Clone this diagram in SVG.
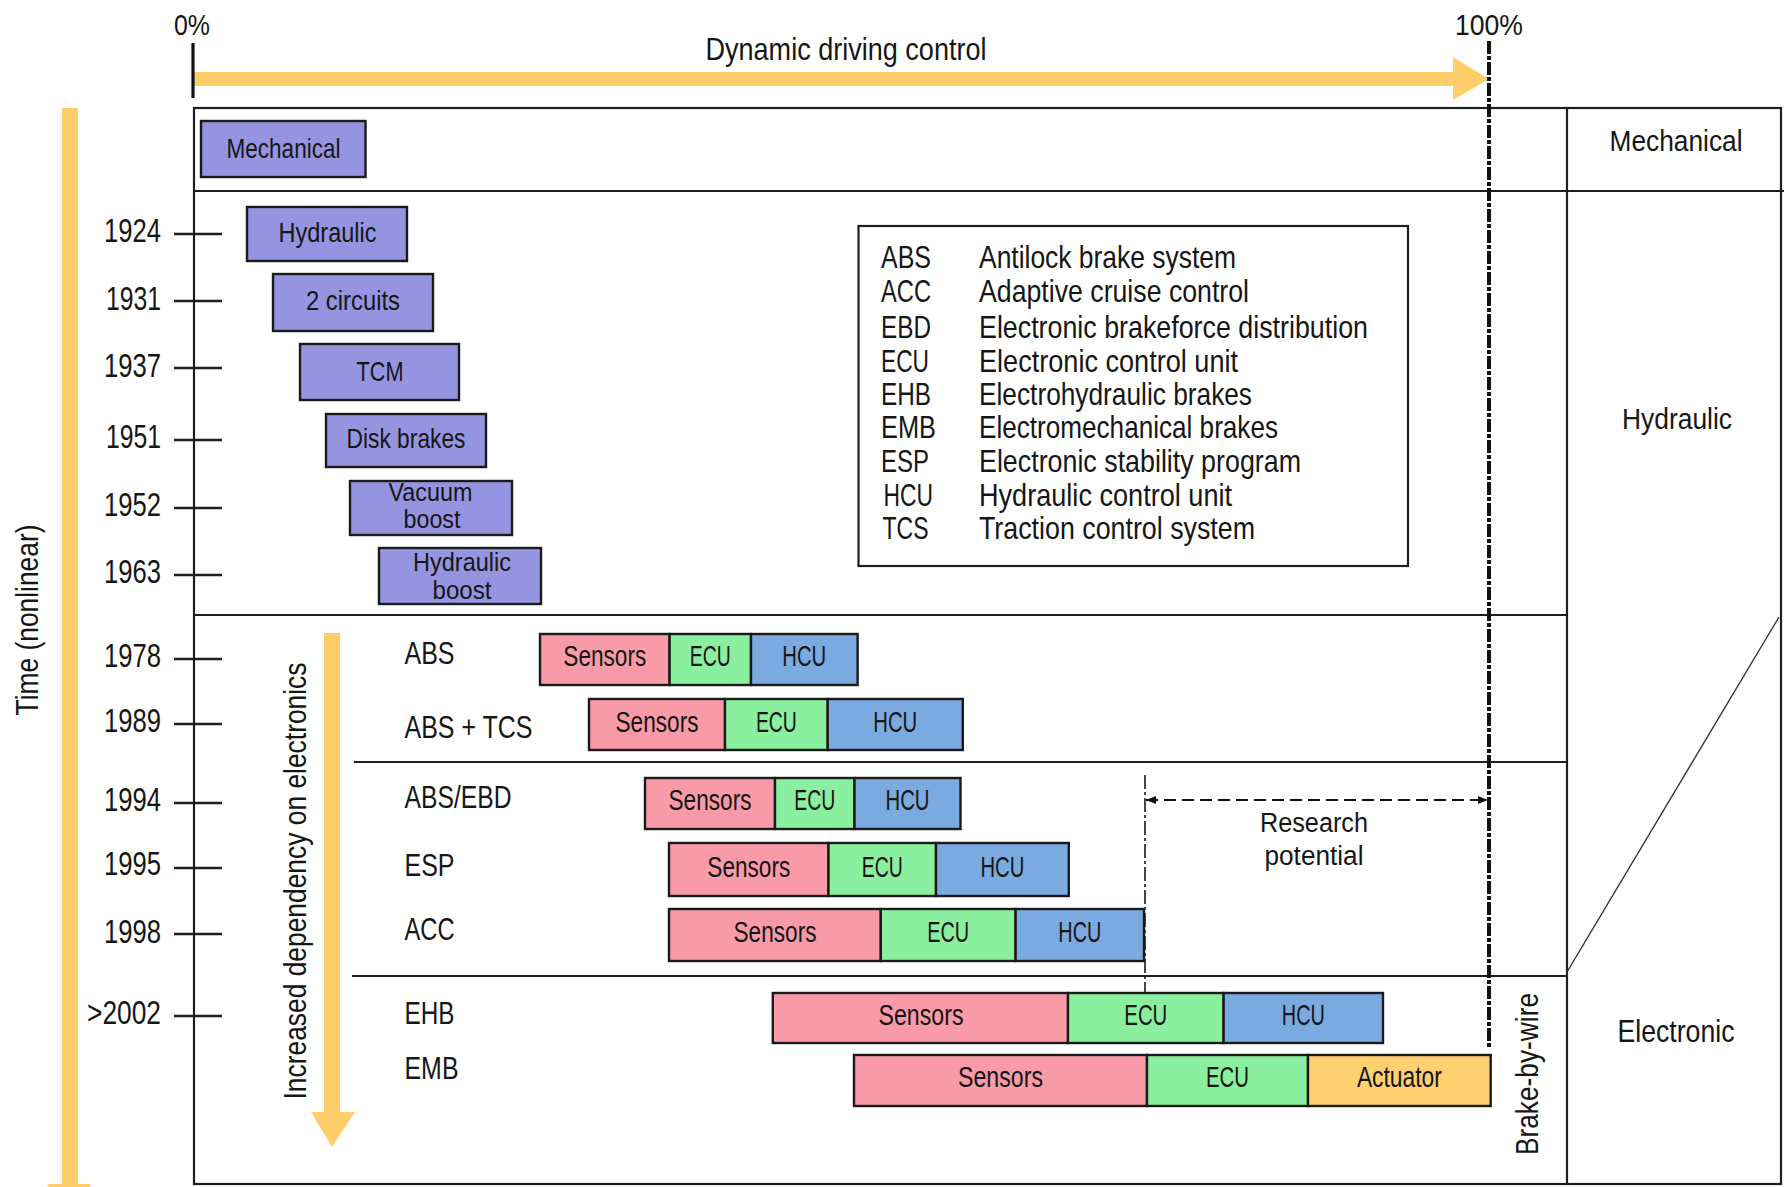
<svg xmlns="http://www.w3.org/2000/svg" width="1789" height="1187" viewBox="0 0 1789 1187">
  <defs>
    <style>
      .t { font-family: "Liberation Sans Narrow", "Liberation Sans", Arial, sans-serif; fill: #161616; }
      .yr { font-size: 33px; text-anchor: end; }
      .row { font-size: 32px; }
      .lg { font-size: 32px; }
      .nd { font-size: 28px; text-anchor: middle; }
      .nd2 { font-size: 25px; text-anchor: middle; }
      .seg { font-size: 29px; text-anchor: middle; }
      .mid { text-anchor: middle; }
      .frame { fill: none; stroke: #1e1e1e; stroke-width: 2.2; }
      .ln { stroke: #1e1e1e; stroke-width: 2.2; fill: none; }
      .tick { stroke: #1e1e1e; stroke-width: 2.4; }
      .era { fill: #9494e0; stroke: #1a1a1a; stroke-width: 2.4; }
      .sen { fill: #f89aa8; stroke: #1a1a1a; stroke-width: 2.4; }
      .ecu { fill: #8aef9e; stroke: #1a1a1a; stroke-width: 2.4; }
      .hcu { fill: #7aaae0; stroke: #1a1a1a; stroke-width: 2.4; }
      .act { fill: #ffd070; stroke: #1a1a1a; stroke-width: 2.4; }
      .yel { fill: #ffce6b; }
    </style>
    <marker id="dimhead" viewBox="0 0 10 8" refX="10" refY="4" markerWidth="10" markerHeight="8" markerUnits="userSpaceOnUse" orient="auto-start-reverse">
      <path d="M0,0 L10,4 L0,8 z" fill="#111"/>
    </marker>
  </defs>

  <!-- background panel with era rows and the classification column -->
  <g id="panel">
    <rect x="194" y="108" width="1587" height="1076" fill="#fff6e6" class="frame"/>
    <line class="ln" x1="194" y1="191" x2="1784" y2="191"/>
    <line class="ln" x1="194" y1="615" x2="1567" y2="615"/>
    <line class="ln" x1="354" y1="762" x2="1567" y2="762"/>
    <line class="ln" x1="352" y1="976" x2="1567" y2="976"/>
    <line class="ln" x1="1567" y1="108" x2="1567" y2="1184"/>
    <line x1="1779" y1="617" x2="1567" y2="972" stroke="#333" stroke-width="1.4"/>
    <text class="t mid" x="1676" y="151" font-size="30" textLength="133" lengthAdjust="spacingAndGlyphs">Mechanical</text>
    <text class="t mid" x="1677" y="429" font-size="30" textLength="110" lengthAdjust="spacingAndGlyphs">Hydraulic</text>
    <text class="t mid" x="1676" y="1042" font-size="32" textLength="117" lengthAdjust="spacingAndGlyphs">Electronic</text>
    <text class="t mid" font-size="32" transform="translate(1538,1074) rotate(-90)" textLength="162" lengthAdjust="spacingAndGlyphs">Brake-by-wire</text>
  </g>

  <!-- axes: driving control scale and time scale -->
  <g id="axes">
    <text class="t mid" x="192" y="35" font-size="30" textLength="36" lengthAdjust="spacingAndGlyphs">0%</text>
    <text class="t mid" x="1489" y="35" font-size="30" textLength="68" lengthAdjust="spacingAndGlyphs">100%</text>
    <text class="t mid" x="846" y="60" font-size="32" textLength="281" lengthAdjust="spacingAndGlyphs">Dynamic driving control</text>
    <polygon class="yel" points="193,72 1453,72 1453,57 1489,79 1453,100 1453,86 193,86"/>
    <line x1="193" y1="43" x2="193" y2="98" stroke="#111" stroke-width="3.2"/>
    <line x1="1489" y1="41" x2="1489" y2="1048" stroke="#111" stroke-width="4" stroke-dasharray="13 2 4 2"/>

    <polygon class="yel" points="62,108 78,108 78,1184 91,1184 70,1230 47,1184 62,1184"/>
    <text class="t mid" font-size="32" transform="translate(38,620) rotate(-90)" textLength="191" lengthAdjust="spacingAndGlyphs">Time (nonlinear)</text>

    <polygon class="yel" points="324,633 340,633 340,1112 355,1112 332,1147 311,1112 324,1112"/>
    <text class="t mid" font-size="32" transform="translate(306,881) rotate(-90)" textLength="437" lengthAdjust="spacingAndGlyphs">Increased dependency on electronics</text>

    <g class="tick">
      <line x1="174" y1="234" x2="222" y2="234"/>
      <line x1="174" y1="301" x2="222" y2="301"/>
      <line x1="174" y1="368" x2="222" y2="368"/>
      <line x1="174" y1="440" x2="222" y2="440"/>
      <line x1="174" y1="508" x2="222" y2="508"/>
      <line x1="174" y1="575" x2="222" y2="575"/>
      <line x1="174" y1="659" x2="222" y2="659"/>
      <line x1="174" y1="724" x2="222" y2="724"/>
      <line x1="174" y1="803" x2="222" y2="803"/>
      <line x1="174" y1="868" x2="222" y2="868"/>
      <line x1="174" y1="934" x2="222" y2="934"/>
      <line x1="174" y1="1016" x2="222" y2="1016"/>
    </g>
    <g class="t yr">
      <text x="161" y="242" textLength="57" lengthAdjust="spacingAndGlyphs">1924</text>
      <text x="161" y="310" textLength="55" lengthAdjust="spacingAndGlyphs">1931</text>
      <text x="161" y="377" textLength="57" lengthAdjust="spacingAndGlyphs">1937</text>
      <text x="161" y="448" textLength="55" lengthAdjust="spacingAndGlyphs">1951</text>
      <text x="161" y="516" textLength="57" lengthAdjust="spacingAndGlyphs">1952</text>
      <text x="161" y="583" textLength="57" lengthAdjust="spacingAndGlyphs">1963</text>
      <text x="161" y="667" textLength="57" lengthAdjust="spacingAndGlyphs">1978</text>
      <text x="161" y="732" textLength="57" lengthAdjust="spacingAndGlyphs">1989</text>
      <text x="161" y="811" textLength="57" lengthAdjust="spacingAndGlyphs">1994</text>
      <text x="161" y="875" textLength="57" lengthAdjust="spacingAndGlyphs">1995</text>
      <text x="161" y="943" textLength="57" lengthAdjust="spacingAndGlyphs">1998</text>
      <text x="161" y="1024" textLength="74" lengthAdjust="spacingAndGlyphs">&gt;2002</text>
    </g>
  </g>

  <!-- mechanical and hydraulic milestones -->
  <g id="mechanical">
    <rect class="era" x="201" y="121" width="164.5" height="56"/>
    <text class="t nd" x="283.5" y="158" textLength="114" lengthAdjust="spacingAndGlyphs">Mechanical</text>
  </g>
  <g id="hydraulic">
    <rect class="era" x="247" y="207" width="160" height="54"/>
    <text class="t nd" x="327.5" y="242" textLength="98" lengthAdjust="spacingAndGlyphs">Hydraulic</text>
  </g>
  <g id="two-circuits">
    <rect class="era" x="273" y="274" width="160" height="57"/>
    <text class="t nd" x="353" y="310" textLength="94" lengthAdjust="spacingAndGlyphs">2 circuits</text>
  </g>
  <g id="tcm">
    <rect class="era" x="300" y="344" width="159" height="56"/>
    <text class="t nd" x="380" y="381" textLength="47" lengthAdjust="spacingAndGlyphs">TCM</text>
  </g>
  <g id="disk-brakes">
    <rect class="era" x="326" y="414" width="160" height="53"/>
    <text class="t nd" x="406" y="448" textLength="119" lengthAdjust="spacingAndGlyphs">Disk brakes</text>
  </g>
  <g id="vacuum-boost">
    <rect class="era" x="350" y="481" width="162" height="54"/>
    <text class="t nd2" x="430.5" y="501" textLength="84" lengthAdjust="spacingAndGlyphs">Vacuum</text>
    <text class="t nd2" x="432" y="528" textLength="57" lengthAdjust="spacingAndGlyphs">boost</text>
  </g>
  <g id="hydraulic-boost">
    <rect class="era" x="379" y="548" width="162" height="56"/>
    <text class="t nd2" x="462" y="571" textLength="98" lengthAdjust="spacingAndGlyphs">Hydraulic</text>
    <text class="t nd2" x="462" y="599" textLength="59" lengthAdjust="spacingAndGlyphs">boost</text>
  </g>

  <!-- abbreviation legend -->
  <g id="legend">
    <rect x="858.5" y="226" width="549.5" height="340" fill="#ffffff" class="frame"/>
    <g class="t lg">
      <text x="881" y="268" textLength="50" lengthAdjust="spacingAndGlyphs">ABS</text>
      <text x="881" y="302" textLength="50" lengthAdjust="spacingAndGlyphs">ACC</text>
      <text x="881" y="338" textLength="50" lengthAdjust="spacingAndGlyphs">EBD</text>
      <text x="881" y="372" textLength="48" lengthAdjust="spacingAndGlyphs">ECU</text>
      <text x="881" y="405" textLength="50" lengthAdjust="spacingAndGlyphs">EHB</text>
      <text x="881" y="438" textLength="55" lengthAdjust="spacingAndGlyphs">EMB</text>
      <text x="881" y="472" textLength="48" lengthAdjust="spacingAndGlyphs">ESP</text>
      <text x="883.5" y="506" textLength="49.5" lengthAdjust="spacingAndGlyphs">HCU</text>
      <text x="882.5" y="539" textLength="46" lengthAdjust="spacingAndGlyphs">TCS</text>
      <text x="979" y="268" textLength="257" lengthAdjust="spacingAndGlyphs">Antilock brake system</text>
      <text x="979" y="302" textLength="270" lengthAdjust="spacingAndGlyphs">Adaptive cruise control</text>
      <text x="979" y="338" textLength="389" lengthAdjust="spacingAndGlyphs">Electronic brakeforce distribution</text>
      <text x="979" y="372" textLength="259" lengthAdjust="spacingAndGlyphs">Electronic control unit</text>
      <text x="979" y="405" textLength="273" lengthAdjust="spacingAndGlyphs">Electrohydraulic brakes</text>
      <text x="979" y="438" textLength="299" lengthAdjust="spacingAndGlyphs">Electromechanical brakes</text>
      <text x="979" y="472" textLength="322" lengthAdjust="spacingAndGlyphs">Electronic stability program</text>
      <text x="979" y="506" textLength="253" lengthAdjust="spacingAndGlyphs">Hydraulic control unit</text>
      <text x="979" y="539" textLength="276" lengthAdjust="spacingAndGlyphs">Traction control system</text>
    </g>
  </g>

  <!-- electronic systems: sensors / control unit / actuation -->
  <g id="abs">
    <text class="t row" x="404.5" y="664" textLength="50" lengthAdjust="spacingAndGlyphs">ABS</text>
    <rect class="sen" x="540" y="634" width="129.6" height="51"/>
    <rect class="ecu" x="669.6" y="634" width="81.4" height="51"/>
    <rect class="hcu" x="751" y="634" width="106.6" height="51"/>
    <text class="t seg" x="604.8" y="666" textLength="83" lengthAdjust="spacingAndGlyphs">Sensors</text>
    <text class="t seg" x="710.3" y="666" textLength="41" lengthAdjust="spacingAndGlyphs">ECU</text>
    <text class="t seg" x="804.3" y="666" textLength="44" lengthAdjust="spacingAndGlyphs">HCU</text>
  </g>
  <g id="abs-tcs">
    <text class="t row" x="404.5" y="738" textLength="128" lengthAdjust="spacingAndGlyphs">ABS + TCS</text>
    <rect class="sen" x="589" y="699" width="136" height="51"/>
    <rect class="ecu" x="725" y="699" width="102.7" height="51"/>
    <rect class="hcu" x="827.7" y="699" width="135.1" height="51"/>
    <text class="t seg" x="657" y="732" textLength="83" lengthAdjust="spacingAndGlyphs">Sensors</text>
    <text class="t seg" x="776.4" y="732" textLength="41" lengthAdjust="spacingAndGlyphs">ECU</text>
    <text class="t seg" x="895.3" y="732" textLength="44" lengthAdjust="spacingAndGlyphs">HCU</text>
  </g>
  <g id="abs-ebd">
    <text class="t row" x="404.5" y="808" textLength="107" lengthAdjust="spacingAndGlyphs">ABS/EBD</text>
    <rect class="sen" x="645" y="778" width="130" height="51"/>
    <rect class="ecu" x="775" y="778" width="79.5" height="51"/>
    <rect class="hcu" x="854.5" y="778" width="106" height="51"/>
    <text class="t seg" x="710" y="810" textLength="83" lengthAdjust="spacingAndGlyphs">Sensors</text>
    <text class="t seg" x="814.8" y="810" textLength="41" lengthAdjust="spacingAndGlyphs">ECU</text>
    <text class="t seg" x="907.5" y="810" textLength="44" lengthAdjust="spacingAndGlyphs">HCU</text>
  </g>
  <g id="esp">
    <text class="t row" x="404.5" y="876" textLength="50" lengthAdjust="spacingAndGlyphs">ESP</text>
    <rect class="sen" x="669" y="843" width="159.5" height="53"/>
    <rect class="ecu" x="828.5" y="843" width="107.5" height="53"/>
    <rect class="hcu" x="936" y="843" width="132.8" height="53"/>
    <text class="t seg" x="748.8" y="877" textLength="83" lengthAdjust="spacingAndGlyphs">Sensors</text>
    <text class="t seg" x="882.3" y="877" textLength="41" lengthAdjust="spacingAndGlyphs">ECU</text>
    <text class="t seg" x="1002.4" y="877" textLength="44" lengthAdjust="spacingAndGlyphs">HCU</text>
  </g>
  <g id="acc">
    <text class="t row" x="404.5" y="940" textLength="50" lengthAdjust="spacingAndGlyphs">ACC</text>
    <rect class="sen" x="669" y="909" width="211.8" height="52"/>
    <rect class="ecu" x="880.8" y="909" width="134.8" height="52"/>
    <rect class="hcu" x="1015.6" y="909" width="128.4" height="52"/>
    <text class="t seg" x="775" y="942" textLength="83" lengthAdjust="spacingAndGlyphs">Sensors</text>
    <text class="t seg" x="948.2" y="942" textLength="42" lengthAdjust="spacingAndGlyphs">ECU</text>
    <text class="t seg" x="1079.8" y="942" textLength="43" lengthAdjust="spacingAndGlyphs">HCU</text>
  </g>
  <g id="ehb">
    <text class="t row" x="404.5" y="1024" textLength="50" lengthAdjust="spacingAndGlyphs">EHB</text>
    <rect class="sen" x="772.8" y="993" width="295.2" height="50"/>
    <rect class="ecu" x="1068" y="993" width="155.6" height="50"/>
    <rect class="hcu" x="1223.6" y="993" width="159.4" height="50"/>
    <text class="t seg" x="921" y="1025" textLength="85" lengthAdjust="spacingAndGlyphs">Sensors</text>
    <text class="t seg" x="1145.8" y="1025" textLength="43" lengthAdjust="spacingAndGlyphs">ECU</text>
    <text class="t seg" x="1303.3" y="1025" textLength="43" lengthAdjust="spacingAndGlyphs">HCU</text>
  </g>
  <g id="emb">
    <text class="t row" x="404.5" y="1079" textLength="54" lengthAdjust="spacingAndGlyphs">EMB</text>
    <rect class="sen" x="854" y="1055" width="293" height="51"/>
    <rect class="ecu" x="1147" y="1055" width="161" height="51"/>
    <rect class="act" x="1308" y="1055" width="182.7" height="51"/>
    <text class="t seg" x="1000.5" y="1087" textLength="85" lengthAdjust="spacingAndGlyphs">Sensors</text>
    <text class="t seg" x="1227.5" y="1087" textLength="43" lengthAdjust="spacingAndGlyphs">ECU</text>
    <text class="t seg" x="1399.4" y="1087" textLength="85" lengthAdjust="spacingAndGlyphs">Actuator</text>
  </g>

  <!-- research potential dimension -->
  <g id="connectors">
    <line x1="1145" y1="775" x2="1145" y2="993" stroke="#1a1a1a" stroke-width="1.6" stroke-dasharray="14 3 3 3"/>
    <line x1="1146" y1="800" x2="1488" y2="800" stroke="#111" stroke-width="2" stroke-dasharray="12 6" marker-start="url(#dimhead)" marker-end="url(#dimhead)"/>
    <text class="t mid" x="1314" y="832" font-size="27" textLength="108" lengthAdjust="spacingAndGlyphs">Research</text>
    <text class="t mid" x="1314" y="865" font-size="27" textLength="99" lengthAdjust="spacingAndGlyphs">potential</text>
  </g>
</svg>
